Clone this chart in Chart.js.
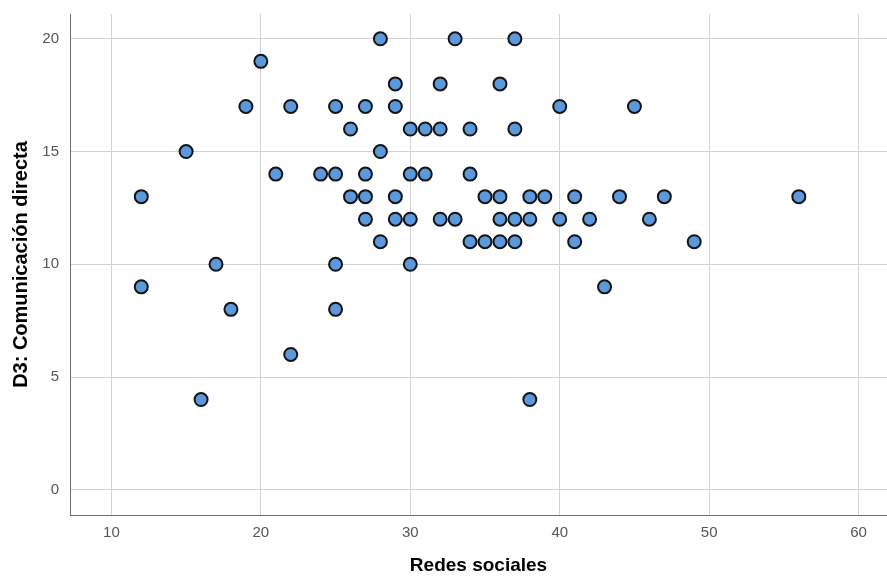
<!DOCTYPE html>
<html>
<head>
<meta charset="utf-8">
<script src="https://cdn.jsdelivr.net/npm/chart.js@4"></script>
<style>
  html, body { margin: 0; padding: 0; background: #fff; }
</style>
</head>
<body>
<canvas id="chart" width="887" height="577"></canvas>
<script>
// Redes sociales (x) vs D3: Comunicación directa (y)
const redesSociales = [
  28, 33, 37,
  20,
  29, 32, 36,
  19, 22, 25, 27, 29, 40, 45,
  26, 30, 31, 32, 34, 37,
  15, 28,
  21, 24, 25, 27, 30, 31, 34,
  12, 26, 27, 29, 35, 36, 38, 39, 41, 44, 47, 56,
  27, 29, 30, 32, 33, 36, 37, 38, 40, 42, 46,
  28, 34, 35, 36, 37, 41, 49,
  17, 25, 30,
  12, 43,
  18, 25,
  22,
  16, 38
];
const comunicacionDirecta = [
  20, 20, 20,
  19,
  18, 18, 18,
  17, 17, 17, 17, 17, 17, 17,
  16, 16, 16, 16, 16, 16,
  15, 15,
  14, 14, 14, 14, 14, 14, 14,
  13, 13, 13, 13, 13, 13, 13, 13, 13, 13, 13, 13,
  12, 12, 12, 12, 12, 12, 12, 12, 12, 12, 12,
  11, 11, 11, 11, 11, 11, 11,
  10, 10, 10,
  9, 9,
  8, 8,
  6,
  4, 4
];
const xTicks = [10, 20, 30, 40, 50, 60];
const yTicks = [0, 5, 10, 15, 20];

const points = redesSociales.map((x, i) => ({ x, y: comunicacionDirecta[i] }));

const gridColor = '#d3d3d3';
const axisColor = '#6e6e6e';
const tickFont = { family: 'Liberation Sans, Arial, sans-serif', size: 15 };

new Chart(document.getElementById('chart'), {
  type: 'scatter',
  data: {
    datasets: [{
      data: points,
      backgroundColor: '#5b98dc',
      borderColor: '#141414',
      borderWidth: 2,
      pointRadius: 6.5
    }]
  },
  options: {
    responsive: false,
    animation: false,
    layout: { autoPadding: false, padding: { top: 14, right: 0, left: 0, bottom: 0 } },
    plugins: {
      legend: { display: false },
      tooltip: { enabled: false }
    },
    scales: {
      x: {
        type: 'linear',
        min: 7.23,
        max: 61.9,
        afterBuildTicks: scale => { scale.ticks = xTicks.map(v => ({ value: v })); },
        afterFit: scale => {
          scale.height = 62;
          scale.paddingLeft = 0;
          scale.paddingRight = 0;
        },
        grid: { color: gridColor, drawTicks: false },
        border: { color: axisColor, width: 1 },
        ticks: { color: '#555', font: tickFont, padding: 9, maxRotation: 0 },
        title: {
          display: true, text: 'Redes sociales', color: '#000',
          font: { family: 'Liberation Sans, Arial, sans-serif', size: 19, weight: 'bold' },
          padding: { top: 0, bottom: 0 }
        }
      },
      y: {
        type: 'linear',
        min: -1.12,
        max: 21.1,
        afterBuildTicks: scale => { scale.ticks = yTicks.map(v => ({ value: v })); },
        afterFit: scale => {
          scale.width = 70;
          scale.paddingTop = 0;
          scale.paddingBottom = 0;
        },
        grid: { color: gridColor, drawTicks: false },
        border: { color: axisColor, width: 1 },
        ticks: { color: '#555', font: tickFont, padding: 11 },
        title: {
          display: true, text: 'D3: Comunicación directa', color: '#000',
          font: { family: 'Liberation Sans, Arial, sans-serif', size: 20, weight: 'bold' },
          padding: { top: 9, bottom: 0 }
        }
      }
    }
  }
});
</script>
</body>
</html>
